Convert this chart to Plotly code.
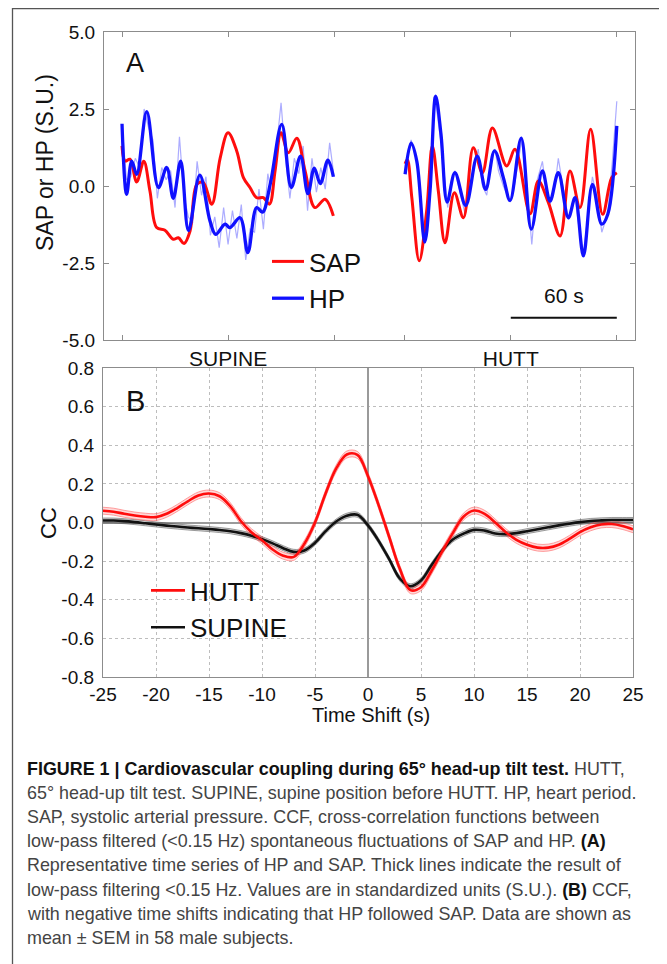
import plotly.graph_objects as go

# ---------------- DATA ----------------
# Panel A: representative time series (s, standardized units)
HP_SUP_T = [0, 2.6, 5.5, 8.3, 14, 20.6, 25.3, 29, 33.2, 37.6, 44, 49.8, 53, 58.3, 61, 66.8, 71.2, 76.2, 79.5, 84, 90.4, 95.8, 101, 105.2, 108.8, 112.2, 116.5, 119.6]
HP_SUP_V = [2.02, -0.27, 0.81, 0.38, 2.41, -0.05, 0.6, -0.4, 0.81, -1.45, 0.35, -1.14, -1.57, -1.24, -1.35, -1.03, -2.16, -0.7, -0.85, 0.1, 2.0, -0.05, 0.97, -0.25, 0.58, 0.08, 0.84, 0.3]

SAP_SUP_T = [0, 1.7, 4.5, 8.3, 12.3, 15.8, 19.6, 24.3, 29, 31.9, 35.1, 38.5, 42.3, 46, 50.8, 55.5, 60, 64.9, 68.7, 72.4, 76.2, 80, 83.4, 86.6, 90, 94.1, 98.9, 103.6, 109.2, 114.9, 119.6]
SAP_SUP_V = [1.3, 0.81, 0.87, 0.13, 0.8, -0.16, -1.35, -1.44, -1.73, -1.68, -1.87, -1.46, 0.05, 0.11, -0.59, 0.9, 1.73, 1.14, 0.27, -0.05, -0.38, -0.38, -0.59, 0.49, 1.73, 1.08, 1.55, 0.49, -0.7, -0.43, -0.97]

HP_HUT_T = [160.2, 163.6, 166.8, 171.3, 174.3, 177.5, 180.5, 184.0, 188.4, 194.5, 201.0, 205.8, 210.8, 215.8, 219.6, 225.9, 231.6, 237.9, 242.2, 246.9, 252.6, 256.4, 261.1, 266.2, 271.5, 274.9, 280]
HP_HUT_V = [0.38, 1.39, 0.81, -1.82, -0.16, 2.92, 1.68, -0.52, 0.43, -0.63, 0.97, -0.11, 1.14, 0.27, -0.47, 1.55, -1.4, 0.49, -0.49, 0.43, -1.03, -0.38, -2.27, 0.05, -1.24, -0.92, 1.95]

SAP_HUT_T = [160.2, 161.5, 164.0, 168.2, 172.4, 175.6, 179.0, 182.8, 188.1, 193.2, 198.8, 203.9, 209.6, 217.7, 222.4, 230.9, 235.6, 241.3, 247.9, 253.5, 259.2, 265.2, 272.0, 277.1, 280]
SAP_HUT_V = [0.72, 0.85, -0.38, -2.43, -0.81, 1.3, -0.16, -1.84, -0.22, -1.03, 1.24, 0.43, 1.88, 0.65, 1.19, -0.9, 0.16, -0.54, -1.62, 0.49, -0.7, 1.84, -0.92, 0.27, 0.43]

# raw (beat-to-beat) HP traces (thin lines)
HP_SUP_RAW_T = [0, 2.5, 5, 7.5, 10, 12.5, 15, 17.5, 20, 22.5, 25, 27.5, 30, 32.5, 35, 37.5, 40, 42.5, 45, 47.5,
                50, 52.5, 55, 57.5, 60, 62.5, 65, 67.5, 70, 72.5, 75, 77.5, 80, 82.5, 85, 87.5, 90, 92.5, 95, 97.5,
                100, 102.5, 105, 107.5, 110, 112.5, 115, 117.5, 120]
HP_SUP_RAW_V = [2.0, 0.2, 0.3, 0.9, 0.6, 2.5, 1.9, 1.5, -0.4, 0.6, 0.2, 0.5, -0.7, 1.6, -0.3, -1.0, -1.2, 0.8, -0.3, 0.3,
                -1.6, -1.0, -2.0, -0.7, -1.9, -0.8, -1.7, -0.6, -2.4, -1.4, -1.5, -0.1, -1.4, 0.4, -0.4, 1.3, 2.7, 0.9, -0.4, 0.9,
                0.4, 1.3, -0.8, 0.9, -0.2, 0.6, -0.1, 1.4, 0.3]
HP_HUT_RAW_T = [160.2, 162, 163.6, 166.8, 169, 171.1, 174.3, 176.5, 177.8, 180.5, 184.3, 186, 188.4, 191, 194.1, 198, 201.6, 204,
                206.4, 209, 211.1, 213, 215.8, 219.6, 222, 226.2, 229, 231.9, 235, 237.9, 240, 242.2, 245, 246.9, 249.5,
                252.6, 256.4, 258.5, 261.1, 263.5, 266.2, 269, 271.5, 274.9, 277.5, 280]
HP_HUT_RAW_V = [0.5, 1.1, 1.5, 0.8, -0.6, -1.7, -0.3, 2.9, 2.6, 1.4, -0.7, 0.1, 0.5, -0.1, -0.9, 0.3, 1.2, 0.0,
                -0.3, 0.8, 1.2, 0.5, 0.0, -0.5, 0.0, 1.5, 0.1, -1.9, 0.2, 0.8, -0.1, -0.6, 0.0, 0.9, 0.0,
                -1.1, -0.4, -1.3, -2.2, -1.0, 0.3, -0.4, -1.5, -0.9, 0.8, 2.75]

SCALE_BAR_S = [220, 280]
SCALE_BAR_Y = -4.28

A_XTICKS = [0, 60, 120, 160, 220, 280]
A_XTICKTEXT = ["", "SUPINE", "", "", "HUTT", ""]
A_YTICKS = [-5, -2.5, 0, 2.5, 5]
A_YTICKTEXT = ["-5.0", "-2.5", "0.0", "2.5", "5.0"]

# Panel B: cross-correlation functions (mean ± SEM)
LAG = list(range(-25, 26))
CCF_HUTT = [0.061, 0.056, 0.045, 0.036, 0.030, 0.028, 0.045, 0.075, 0.110, 0.140, 0.150, 0.136, 0.085, 0.008, -0.050,
            -0.092, -0.140, -0.172, -0.178, -0.110, 0.000, 0.150, 0.280, 0.352, 0.350, 0.240, 0.090, -0.075, -0.240, -0.350,
            -0.335, -0.250, -0.150, -0.055, 0.030, 0.062, 0.045, 0.000, -0.050, -0.090, -0.115, -0.130, -0.130, -0.115,
            -0.085, -0.050, -0.025, -0.010, -0.008, -0.018, -0.035]
CCF_SUPINE = [0.010, 0.010, 0.007, 0.002, -0.004, -0.010, -0.016, -0.021, -0.026, -0.030, -0.034, -0.039, -0.045, -0.055,
              -0.068, -0.086, -0.108, -0.133, -0.152, -0.145, -0.105, -0.045, 0.005, 0.035, 0.040, -0.015, -0.095, -0.190,
              -0.290, -0.330, -0.300, -0.220, -0.145, -0.088, -0.058, -0.038, -0.042, -0.057, -0.060, -0.055, -0.045,
              -0.035, -0.025, -0.015, -0.006, 0.002, 0.008, 0.011, 0.013, 0.013, 0.013]
SEM_HUTT = 0.018
SEM_SUPINE = 0.013

B_XTICKS = [-25, -20, -15, -10, -5, 0, 5, 10, 15, 20, 25]
B_XTICKTEXT = ["-25", "-20", "-15", "-10", "-5", "0", "5", "10", "15", "20", "25"]
B_YTICKS = [-0.8, -0.6, -0.4, -0.2, 0.0, 0.2, 0.4, 0.6, 0.8]
B_YTICKTEXT = ["-0.8", "-0.6", "-0.4", "-0.2", "0.0", "0.2", "0.4", "0.6", "0.8"]

CAPTION = [
    "<b>FIGURE 1 | Cardiovascular coupling during 65° head-up tilt test.</b> HUTT,",
    "65° head-up tilt test. SUPINE, supine position before HUTT. HP, heart period.",
    "SAP, systolic arterial pressure. CCF, cross-correlation functions between",
    "low-pass filtered (&lt;0.15 Hz) spontaneous fluctuations of SAP and HP. <b>(A)</b>",
    "Representative time series of HP and SAP. Thick lines indicate the result of",
    "low-pass filtering &lt;0.15 Hz. Values are in standardized units (S.U.). <b>(B)</b> CCF,",
    "with negative time shifts indicating that HP followed SAP. Data are shown as",
    "mean ± SEM in 58 male subjects.",
]

# ---------------- FIGURE ----------------
# The page body has an 8 px margin, so the figure is 8 px smaller and all
# positions below are given in page pixels and converted.
OFF = 8
W, H = 667 - OFF, 964 - OFF
FONT = "Liberation Sans, Arial, Helvetica, sans-serif"
RED = "#ff0d0d"
BLUE = "#1010ff"


def px(x):
    return (x - OFF) / W


def py(y):
    return 1 - (y - OFF) / H


fig = go.Figure()

# Panel A raw lines
fig.add_trace(go.Scatter(x=HP_SUP_RAW_T, y=HP_SUP_RAW_V, mode="lines", xaxis="x", yaxis="y",
                         line=dict(color="rgba(70,70,255,0.45)", width=1.2), showlegend=False, hoverinfo="skip"))
fig.add_trace(go.Scatter(x=HP_HUT_RAW_T, y=HP_HUT_RAW_V, mode="lines", xaxis="x", yaxis="y",
                         line=dict(color="rgba(70,70,255,0.45)", width=1.2), showlegend=False, hoverinfo="skip"))
# Panel A filtered (thick) lines
fig.add_trace(go.Scatter(x=SAP_SUP_T, y=SAP_SUP_V, mode="lines", xaxis="x", yaxis="y", name="SAP",
                         line=dict(color=RED, width=3, shape="spline", smoothing=1.0), legend="legend",
                         legendgroup="sap"))
fig.add_trace(go.Scatter(x=SAP_HUT_T, y=SAP_HUT_V, mode="lines", xaxis="x", yaxis="y", name="SAP",
                         line=dict(color=RED, width=3, shape="spline", smoothing=1.0), showlegend=False))
fig.add_trace(go.Scatter(x=HP_SUP_T, y=HP_SUP_V, mode="lines", xaxis="x", yaxis="y", name="HP",
                         line=dict(color=BLUE, width=3.3, shape="spline", smoothing=1.0), legend="legend",
                         legendgroup="hp"))
fig.add_trace(go.Scatter(x=HP_HUT_T, y=HP_HUT_V, mode="lines", xaxis="x", yaxis="y", name="HP",
                         line=dict(color=BLUE, width=3.3, shape="spline", smoothing=1.0), showlegend=False))


# Panel B: bands and means
def band(mean, sem, fillc, edgec):
    up = [m + sem for m in mean]
    lo = [m - sem for m in mean]
    fig.add_trace(go.Scatter(x=LAG, y=lo, mode="lines", xaxis="x2", yaxis="y2", showlegend=False,
                             line=dict(color=edgec, width=1, shape="spline"), hoverinfo="skip"))
    fig.add_trace(go.Scatter(x=LAG, y=up, mode="lines", xaxis="x2", yaxis="y2", showlegend=False,
                             fill="tonexty", fillcolor=fillc,
                             line=dict(color=edgec, width=1, shape="spline"), hoverinfo="skip"))


band(CCF_SUPINE, SEM_SUPINE, "rgba(0,0,0,0.18)", "rgba(90,90,90,0.55)")
band(CCF_HUTT, SEM_HUTT, "rgba(255,0,0,0.15)", "rgba(255,90,90,0.55)")
fig.add_trace(go.Scatter(x=LAG, y=CCF_SUPINE, mode="lines", xaxis="x2", yaxis="y2", name="SUPINE",
                         line=dict(color="#111111", width=2.6, shape="spline"), legend="legend2", legendrank=2))
fig.add_trace(go.Scatter(x=LAG, y=CCF_HUTT, mode="lines", xaxis="x2", yaxis="y2", name="HUTT",
                         line=dict(color=RED, width=2.6, shape="spline"), legend="legend2", legendrank=1))

axis_font = dict(family=FONT, size=19, color="#111")
frame = "#8c8c8c"

fig.update_layout(
    width=W, height=H,
    margin=dict(l=0, r=0, t=0, b=0, pad=0, autoexpand=False),
    paper_bgcolor="white", plot_bgcolor="white",
    font=dict(family=FONT, color="#111"),
    xaxis=dict(domain=[px(104), px(635)], range=[-10.2, 290.3], tickvals=A_XTICKS, ticktext=A_XTICKTEXT,
               ticks="inside", ticklen=5, tickcolor=frame, showline=True, linecolor=frame, linewidth=1.2,
               mirror="ticks", showgrid=False, zeroline=False, tickfont=dict(family=FONT, size=21, color="#111"),
               anchor="y", automargin=False),
    yaxis=dict(domain=[py(340), py(32)], range=[-5, 5], tickvals=A_YTICKS, ticktext=A_YTICKTEXT,
               ticks="inside", ticklen=5, tickcolor=frame, showline=True, linecolor=frame, linewidth=1.2,
               mirror="ticks", showgrid=False, zeroline=False, tickfont=axis_font, anchor="x",
               ticklabelstandoff=4, automargin=False),
    xaxis2=dict(domain=[px(103), px(633)], range=[-25, 25], tickvals=B_XTICKS, ticktext=B_XTICKTEXT,
                ticks="", showline=True, linecolor=frame, linewidth=1.2, mirror=True,
                showgrid=True, gridcolor="#bdbdbd", griddash="dot", gridwidth=1,
                zeroline=True, zerolinecolor="#9a9a9a", zerolinewidth=1.6,
                tickfont=axis_font, anchor="y2", automargin=False),
    yaxis2=dict(domain=[py(677), py(368)], range=[-0.8, 0.8], tickvals=B_YTICKS, ticktext=B_YTICKTEXT,
                ticks="", showline=True, linecolor=frame, linewidth=1.2, mirror=True,
                showgrid=True, gridcolor="#bdbdbd", griddash="dot", gridwidth=1,
                zeroline=True, zerolinecolor="#9a9a9a", zerolinewidth=1.6,
                tickfont=axis_font, anchor="x2", ticklabelstandoff=4, automargin=False),
    legend=dict(x=px(267), y=py(238), xanchor="left", yanchor="top", bgcolor="rgba(0,0,0,0)",
                font=dict(family=FONT, size=26, color="#111"), itemwidth=32, tracegroupgap=0,
                traceorder="normal"),
    legend2=dict(x=px(146), y=py(567), xanchor="left", yanchor="top", bgcolor="rgba(0,0,0,0)",
                 font=dict(family=FONT, size=26, color="#111"), itemwidth=34, traceorder="normal"),
    showlegend=True,
)


def label(text, x, y, size, angle=0):
    return dict(text=text, x=px(x), y=py(y), xref="paper", yref="paper", showarrow=False,
                xanchor="center", yanchor="middle", textangle=angle,
                font=dict(family=FONT, size=size, color="#111"))


ann = [
    label("A", 135, 63, 27),
    label("B", 135, 401, 29),
    label("SAP or HP (S.U.)", 45, 163, 23, -90),
    label("CC", 48, 523, 22, -90),
    label("Time Shift (s)", 371, 715, 20),
    dict(text="60 s", x=sum(SCALE_BAR_S) / 2, y=-3.57, xref="x", yref="y", showarrow=False,
         xanchor="center", yanchor="middle", font=dict(family=FONT, size=21, color="#111")),
]
for i, line in enumerate(CAPTION):
    ann.append(dict(text=line.replace("<b>", "<b style='color:#111'>"), x=px(25), y=py(769 + 24.1 * i),
                    xref="paper", yref="paper", showarrow=False,
                    xanchor="left", yanchor="middle", align="left",
                    font=dict(family=FONT, size=17.9, color="#444")))
fig.update_layout(annotations=ann)

fig.add_shape(type="line", xref="x", yref="y", x0=SCALE_BAR_S[0], x1=SCALE_BAR_S[1],
              y0=SCALE_BAR_Y, y1=SCALE_BAR_Y, line=dict(color="#111", width=2))
fig.add_shape(type="rect", xref="paper", yref="paper", x0=px(12.5), x1=px(665), y0=-0.05, y1=py(8.5),
              line=dict(color="#555", width=1.3))

fig.write_html("out.html")
